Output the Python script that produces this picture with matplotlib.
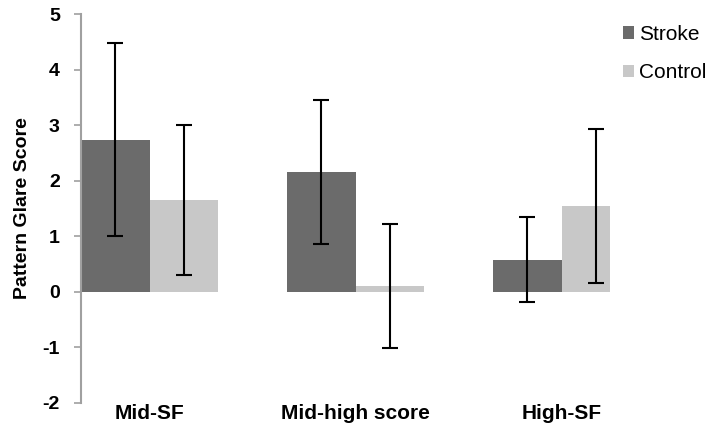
import matplotlib.pyplot as plt
import numpy as np

plt.rcParams['font.family'] = ['Liberation Sans', 'DejaVu Sans']

# data
categories = ['Mid-SF', 'Mid-high score', 'High-SF']
stroke = [2.73, 2.16, 0.58]
stroke_lo = [1.01, 0.86, -0.19]
stroke_hi = [4.48, 3.46, 1.35]
control = [1.66, 0.11, 1.55]
control_lo = [0.30, -1.01, 0.16]
control_hi = [3.00, 1.22, 2.94]

x = np.arange(1, len(categories) + 1)
w = 1 / 3

fig = plt.figure(figsize=(7.06, 4.28), dpi=100)
ax = fig.add_axes([0.1143, 0.059, 0.75, 0.9075])

stroke_err = [np.array(stroke) - np.array(stroke_lo), np.array(stroke_hi) - np.array(stroke)]
control_err = [np.array(control) - np.array(control_lo), np.array(control_hi) - np.array(control)]

ax.bar(x - w / 2, stroke, w, color='#6b6b6b', label='Stroke',
       yerr=stroke_err, capsize=6, error_kw=dict(elinewidth=1.5, capthick=1.5, ecolor='black'))
ax.bar(x + w / 2, control, w, color='#c8c8c8', label='Control',
       yerr=control_err, capsize=6, error_kw=dict(elinewidth=1.5, capthick=1.5, ecolor='black'))

ax.set_ylim(-2, 5)
ax.set_xlim(0.665, 0.665 + 0.75 * 706 / 206)
ax.set_yticks(range(-2, 6))
ax.set_yticklabels([str(v) for v in range(-2, 6)], fontsize=14, fontweight='bold')
ax.set_xticks(x)
ax.set_xticklabels(categories, fontsize=15, fontweight='bold')
ax.tick_params(axis='x', length=0, pad=1)
ax.tick_params(axis='y', length=5, color='#a0a0a0', width=1.2, pad=10)
for s in ['top', 'right', 'bottom']:
    ax.spines[s].set_visible(False)
ax.spines['left'].set_color('#a0a0a0')
ax.spines['left'].set_linewidth(1.5)
ax.set_ylabel('Pattern Glare Score', fontsize=14, fontweight='bold', labelpad=8)

fig.legend(loc='upper left', bbox_to_anchor=(0.87, 0.962), frameon=False, fontsize=15,
           handlelength=0.55, handleheight=0.55, handletextpad=0.25, labelspacing=0.95,
           borderaxespad=0)

fig.savefig('out.png', dpi=100)
